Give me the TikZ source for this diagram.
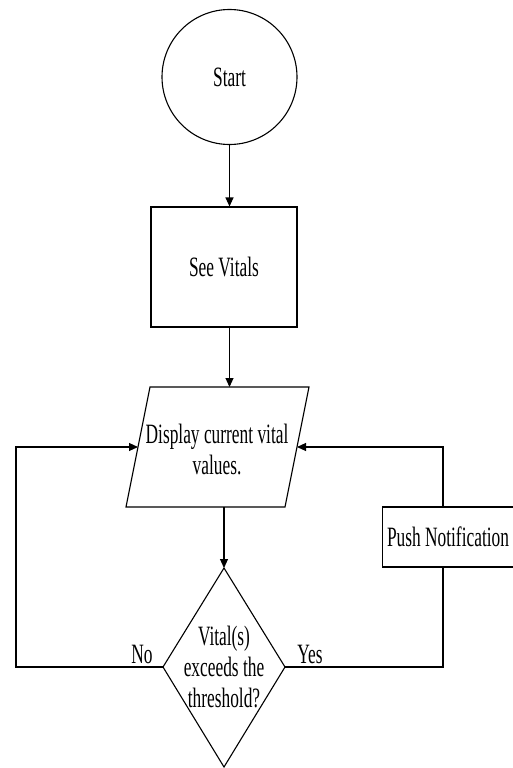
\documentclass[tikz,border=0pt]{standalone}
\usepackage{fontspec}
\setmainfont{Liberation Serif}[FakeStretch=0.62]
\usetikzlibrary{arrows.meta}
\begin{document}
\begin{tikzpicture}[x=1pt,y=-1pt, line width=1.1pt,
  >={Triangle[length=9pt,width=8pt]},
  txt/.style={font=\fontsize{28}{31}\selectfont, align=center, inner sep=0pt},
  boxed/.style={draw, rectangle, txt}]
\useasboundingbox (0,0) rectangle (513,768);
% start
\node[draw, circle, minimum size=135pt, txt] (start) at (229.5,77) {Start};
% see vitals
\node[boxed, minimum width=146pt, minimum height=120pt] (vitals) at (224,267) {See Vitals};
% parallelogram
\coordinate (pTL) at (150,387);
\coordinate (pTR) at (309,387);
\coordinate (pBR) at (285,507);
\coordinate (pBL) at (126,507);
\draw (pTL) -- (pTR) -- (pBR) -- (pBL) -- cycle;
\node[txt] (disp) at (217,449) {Display current vital\\values.};
\coordinate (pinL) at (138,447);
\coordinate (pinR) at (297,447);
% decision diamond
\coordinate (dT) at (224,568);
\coordinate (dR) at (285,667);
\coordinate (dB) at (224,767);
\coordinate (dL) at (163,667);
\draw (dT) -- (dR) -- (dB) -- (dL) -- cycle;
\node[txt] (dec) at (224,667) {Vital(s)\\exceeds the\\threshold?};
% push notification
\node[boxed, minimum width=131pt, minimum height=60pt] (push) at (448,537) {Push Notification};
\coordinate (rx) at (443,0);
\coordinate (lx) at (16,0);
% connectors
\draw[->] (start.south) -- (start.south |- vitals.north);
\draw[->] (start.south |- vitals.south) -- (start.south |- pTL);
\draw[->] (dT |- pBL) -- (dT);
\draw[->] (dL) -- (lx |- dL) -- (lx |- pinL) -- (pinL);
\draw (dR) -- (rx |- dR) -- (rx |- push.south);
\draw[->] (rx |- push.north) -- (rx |- pinR) -- (pinR);
% labels
\node[txt, anchor=base] (no) at (142,663) {No};
\node[txt, anchor=base] (yes) at (310,663) {Yes};
\end{tikzpicture}
\end{document}
